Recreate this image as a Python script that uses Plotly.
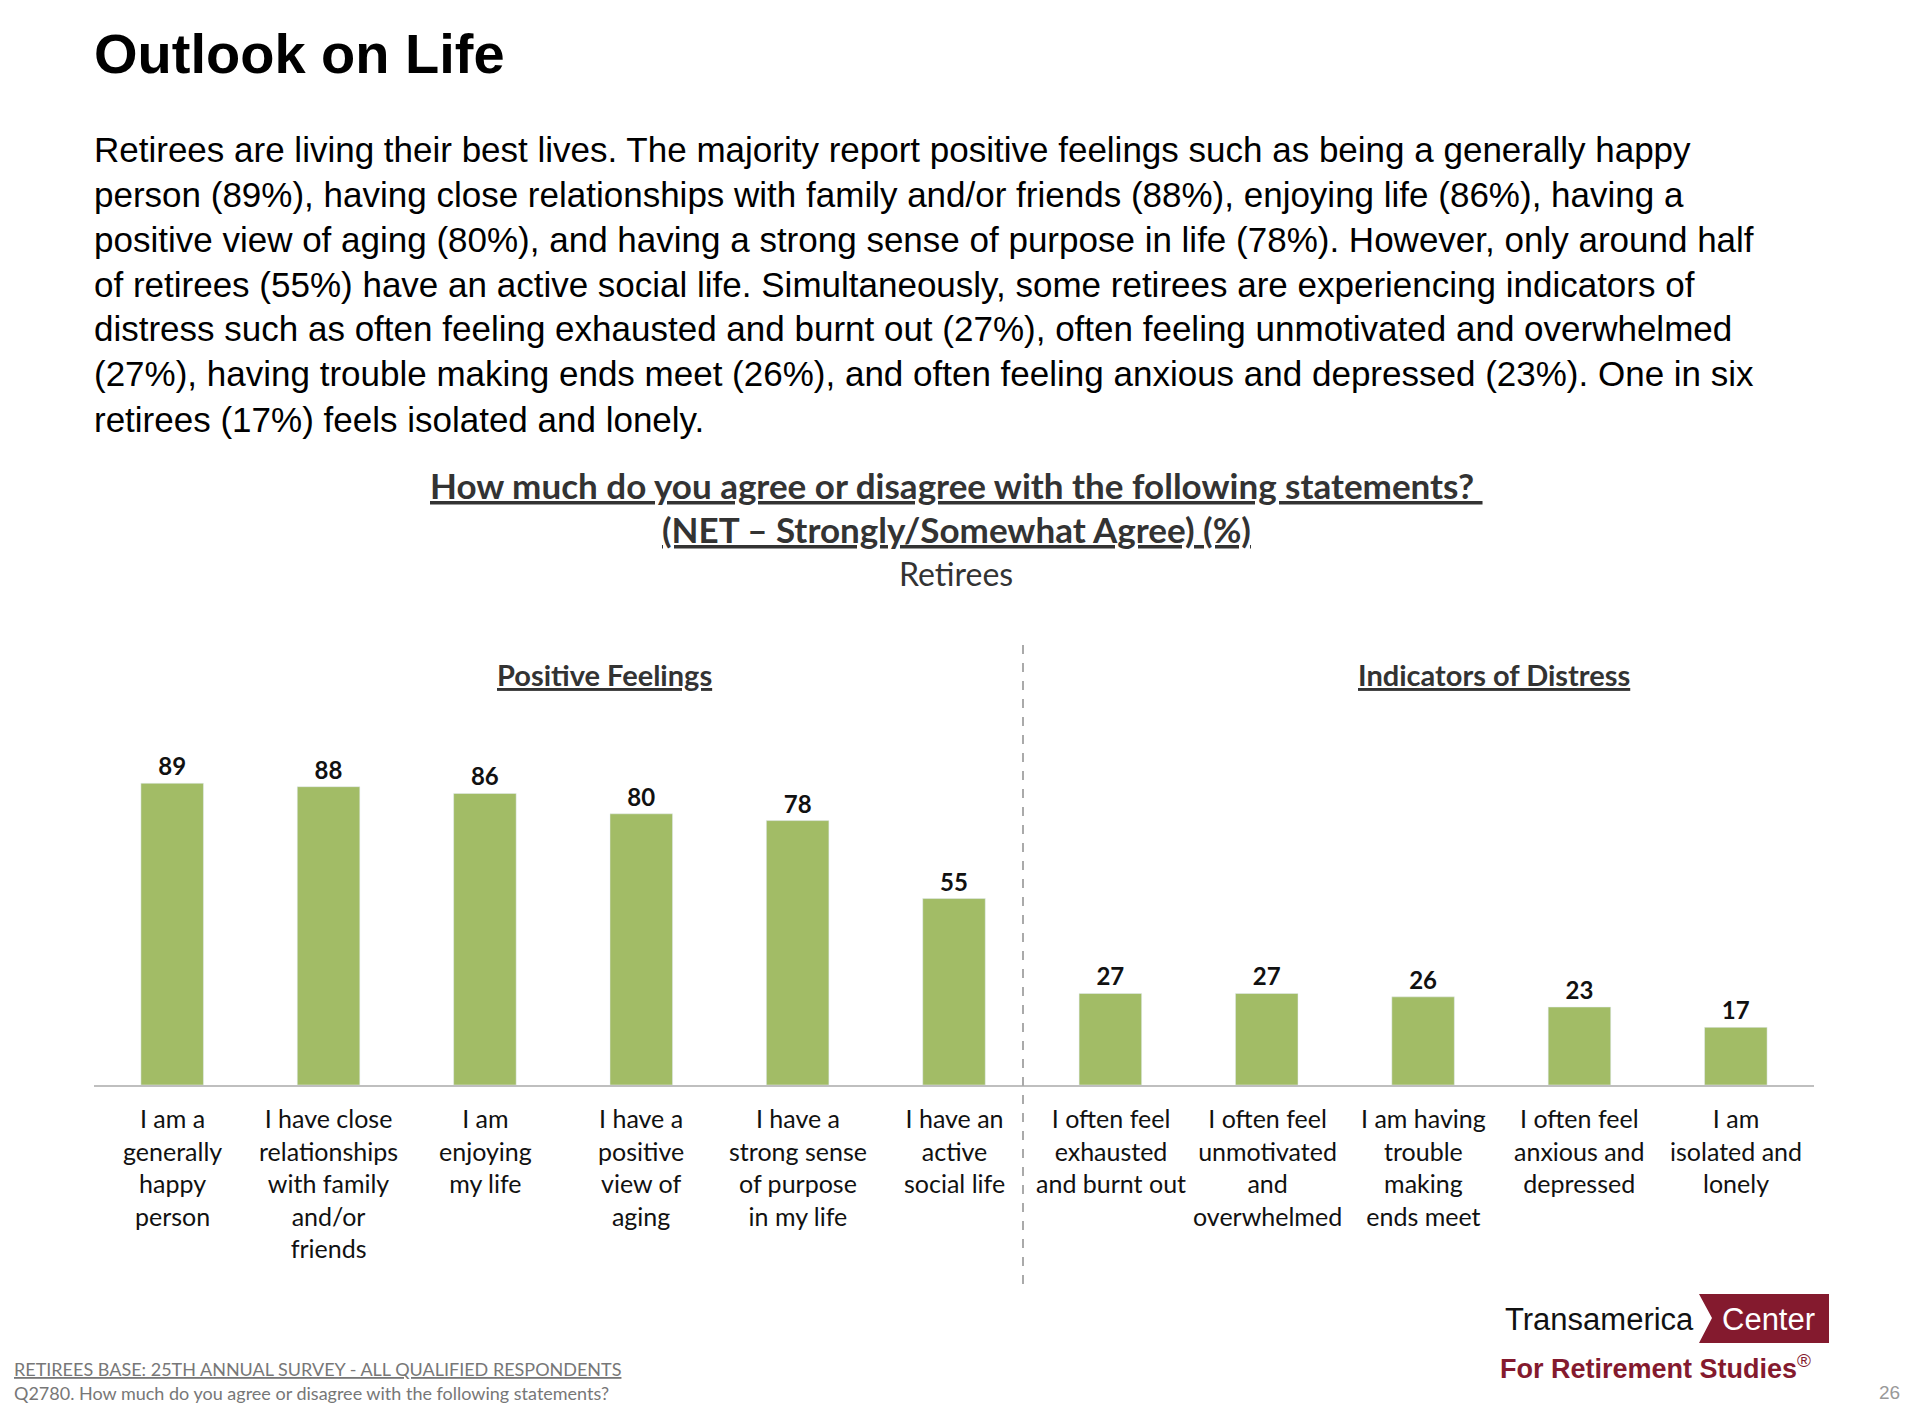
import plotly.graph_objects as go

W, H = 1896, 1398  # page body keeps an 8px margin
OFF_X, OFF_Y = 12, 13

categories = [
    "I am a<br>generally<br>happy<br>person",
    "I have close<br>relationships<br>with family<br>and/or<br>friends",
    "I am<br>enjoying<br>my life",
    "I have a<br>positive<br>view of<br>aging",
    "I have a<br>strong sense<br>of purpose<br>in my life",
    "I have an<br>active<br>social life",
    "I often feel<br>exhausted<br>and burnt out",
    "I often feel<br>unmotivated<br>and<br>overwhelmed",
    "I am having<br>trouble<br>making<br>ends meet",
    "I often feel<br>anxious and<br>depressed",
    "I am<br>isolated and<br>lonely",
]
values = [89, 88, 86, 80, 78, 55, 27, 27, 26, 23, 17]

paragraph = [
    "Retirees are living their best lives. The majority report positive feelings such as being a generally happy",
    "person (89%), having close relationships with family and/or friends (88%), enjoying life (86%), having a",
    "positive view of aging (80%), and having a strong sense of purpose in life (78%). However, only around half",
    "of retirees (55%) have an active social life. Simultaneously, some retirees are experiencing indicators of",
    "distress such as often feeling exhausted and burnt out (27%), often feeling unmotivated and overwhelmed",
    "(27%), having trouble making ends meet (26%), and often feeling anxious and depressed (23%). One in six",
    "retirees (17%) feels isolated and lonely.",
]

GREEN = "#A2BC66"
RED = "#841A2E"
CHART_FONT = "Lato"


def px_(x):
    return (x - OFF_X) / W


def py_(y):
    return 1 - (y - OFF_Y) / H


fig = go.Figure(go.Bar(
    x=list(range(len(values))), y=values,
    marker_color=GREEN, width=0.4,
    text=values, textposition="outside",
    textfont=dict(family=CHART_FONT, size=24, color="#111"),
    texttemplate="<b>%{text}</b>", cliponaxis=False,
))

ann = []
ann.append(dict(x=px_(96), y=py_(59), text="<b>Outlook on Life</b>", xanchor="left",
                font=dict(family="Liberation Sans", size=56, color="#000")))
for i, line in enumerate(paragraph):
    ann.append(dict(x=px_(96), y=py_(154 + i * 45), text=line, xanchor="left",
                    font=dict(family="Liberation Sans", size=35, color="#000")))
ann.append(dict(x=px_(960), y=py_(490),
                text="<b><u>How much do you agree or disagree with the following statements? </u></b>",
                font=dict(family=CHART_FONT, size=35, color="#333")))
ann.append(dict(x=px_(960), y=py_(534), text="<b><u>(NET – Strongly/Somewhat Agree) (%)</u></b>",
                font=dict(family=CHART_FONT, size=35, color="#333")))
ann.append(dict(x=px_(960), y=py_(578), text="Retirees",
                font=dict(family=CHART_FONT, size=32, color="#333")))
ann.append(dict(x=px_(608), y=py_(679), text="<b><u>Positive Feelings</u></b>",
                font=dict(family=CHART_FONT, size=29, color="#333")))
ann.append(dict(x=px_(1498), y=py_(679), text="<b><u>Indicators of Distress</u></b>",
                font=dict(family=CHART_FONT, size=29, color="#333")))
for i, c in enumerate(categories):
    ann.append(dict(x=px_(98 + 156.4 * (i + 0.5)), y=py_(1106), text=c, yanchor="top",
                    font=dict(family=CHART_FONT, size=25, color="#111")))
ann.append(dict(x=px_(16), y=py_(1374), text="<u>RETIREES BASE: 25TH ANNUAL SURVEY - ALL QUALIFIED RESPONDENTS</u>",
                xanchor="left", font=dict(family=CHART_FONT, size=18, color="#777")))
ann.append(dict(x=px_(16), y=py_(1398), text="Q2780. How much do you agree or disagree with the following statements?",
                xanchor="left", font=dict(family=CHART_FONT, size=18, color="#777")))
ann.append(dict(x=px_(1906), y=py_(1397), text="26", xanchor="right",
                font=dict(family="Liberation Sans", size=19, color="#999")))
# logo
ann.append(dict(x=px_(1700), y=py_(1324), text="Transamerica", xanchor="right",
                font=dict(family="Liberation Sans", size=31, color="#111")))
ann.append(dict(x=px_(1772), y=py_(1324), text="Center", xanchor="center",
                font=dict(family="Liberation Sans", size=31, color="#fff")))
ann.append(dict(x=px_(1502), y=py_(1372), text="<b>For Retirement Studies</b><sup>®</sup>", xanchor="left",
                font=dict(family="Liberation Sans", size=27, color=RED)))
for a in ann:
    a.update(xref="paper", yref="paper", showarrow=False,
             xanchor=a.get("xanchor", "center"), yanchor=a.get("yanchor", "middle"))

shapes = [
    dict(type="line", xref="paper", yref="paper", x0=px_(1027), x1=px_(1027), y0=py_(650), y1=py_(1289),
         line=dict(color="#AAA", width=2, dash="dash")),
    dict(type="path", xref="paper", yref="paper",
         path=f"M {px_(1703)},{py_(1299)} L {px_(1833)},{py_(1299)} L {px_(1833)},{py_(1348)} "
              f"L {px_(1703)},{py_(1348)} L {px_(1716)},{py_(1323)} Z",
         fillcolor=RED, line=dict(width=0), layer="below"),
]

fig.update_layout(
    width=W, height=H, margin=dict(l=0, r=0, t=0, b=0),
    paper_bgcolor="white", plot_bgcolor="rgba(0,0,0,0)", showlegend=False,
    annotations=ann, shapes=shapes,
    xaxis=dict(domain=[px_(98), px_(1818)], range=[-0.5, 10.5], showticklabels=False,
               showline=True, linecolor="#BFBFBF", linewidth=2, showgrid=False, zeroline=False),
    yaxis=dict(domain=[py_(1090), py_(751)], range=[0, 100], visible=False),
)

fig.write_html("out.html")
